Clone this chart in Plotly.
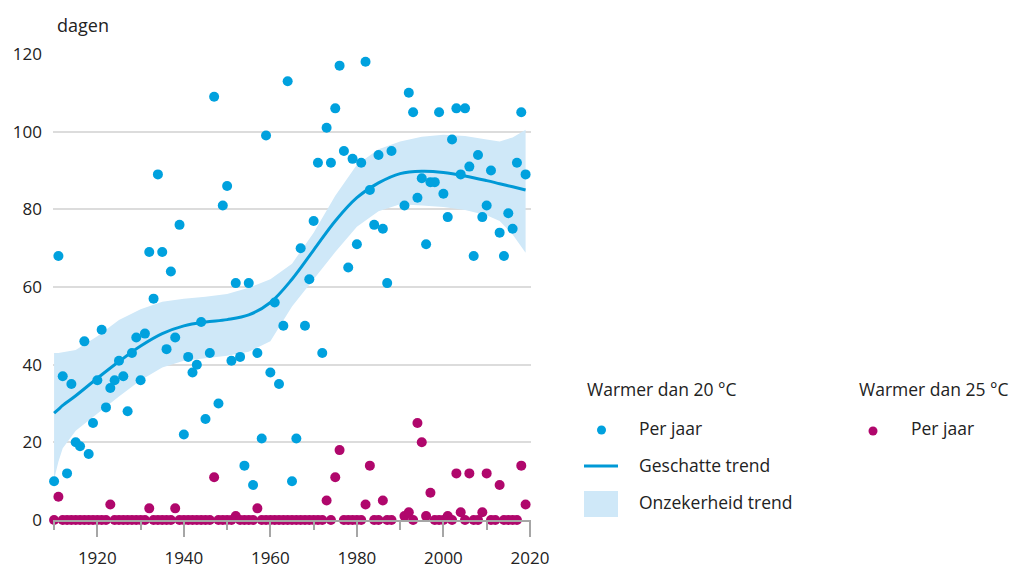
import plotly.graph_objects as go

# ---------------- data ----------------
years_20 = [1910, 1911, 1912, 1913, 1914, 1915, 1916, 1917, 1918, 1919,
            1920, 1921, 1922, 1923, 1924, 1925, 1926, 1927, 1928, 1929,
            1930, 1931, 1932, 1933, 1934, 1935, 1936, 1937, 1938, 1939,
            1940, 1941, 1942, 1943, 1944, 1945, 1946, 1947, 1948, 1949,
            1950, 1951, 1952, 1953, 1954, 1955, 1956, 1957, 1958, 1959,
            1960, 1961, 1962, 1963, 1964, 1965, 1966, 1967, 1968, 1969,
            1970, 1971, 1972, 1973, 1974, 1975, 1976, 1977, 1978, 1979,
            1980, 1981, 1982, 1983, 1984, 1985, 1986, 1987, 1988,
            1991, 1992, 1993, 1994, 1995, 1996, 1997, 1998, 1999,
            2000, 2001, 2002, 2003, 2004, 2005, 2006, 2007, 2008, 2009,
            2010, 2011, 2013, 2014, 2015, 2016, 2017, 2018, 2019]
days_20 = [10, 68, 37, 12, 35, 20, 19, 46, 17, 25,
           36, 49, 29, 34, 36, 41, 37, 28, 43, 47,
           36, 48, 69, 57, 89, 69, 44, 64, 47, 76,
           22, 42, 38, 40, 51, 26, 43, 109, 30, 81,
           86, 41, 61, 42, 14, 61, 9, 43, 21, 99,
           38, 56, 35, 50, 113, 10, 21, 70, 50, 62,
           77, 92, 43, 101, 92, 106, 117, 95, 65, 93,
           71, 92, 118, 85, 76, 94, 75, 61, 95,
           81, 110, 105, 83, 88, 71, 87, 87, 105,
           84, 78, 98, 106, 89, 106, 91, 68, 94, 78,
           81, 90, 74, 68, 79, 75, 92, 105, 89]

years_25 = [1910, 1911, 1912, 1913, 1914, 1915, 1916, 1917, 1918, 1919,
            1920, 1921, 1922, 1923, 1924, 1925, 1926, 1927, 1928, 1929,
            1930, 1931, 1932, 1933, 1934, 1935, 1936, 1937, 1938, 1939,
            1940, 1941, 1942, 1943, 1944, 1945, 1946, 1947, 1948, 1949,
            1950, 1951, 1952, 1953, 1954, 1955, 1956, 1957, 1958, 1959,
            1960, 1961, 1962, 1963, 1964, 1965, 1966, 1967, 1968, 1969,
            1970, 1971, 1972, 1973, 1974, 1975, 1976, 1977, 1978, 1979,
            1980, 1981, 1982, 1983, 1984, 1985, 1986, 1987, 1988,
            1991, 1992, 1993, 1994, 1995, 1996, 1997, 1998, 1999,
            2000, 2001, 2002, 2003, 2004, 2005, 2006, 2007, 2008, 2009,
            2010, 2011, 2012, 2013, 2014, 2015, 2016, 2017, 2018, 2019]
days_25 = [0, 6, 0, 0, 0, 0, 0, 0, 0, 0,
           0, 0, 0, 4, 0, 0, 0, 0, 0, 0,
           0, 0, 3, 0, 0, 0, 0, 0, 3, 0,
           0, 0, 0, 0, 0, 0, 0, 11, 0, 0,
           0, 0, 1, 0, 0, 0, 0, 3, 0, 0,
           0, 0, 0, 0, 0, 0, 0, 0, 0, 0,
           0, 0, 0, 5, 0, 11, 18, 0, 0, 0,
           0, 0, 4, 14, 0, 0, 5, 0, 0,
           1, 2, 0, 25, 20, 1, 7, 0, 0,
           0, 1, 0, 12, 2, 0, 12, 0, 0, 2,
           12, 0, 0, 9, 0, 0, 0, 0, 14, 4]

trend_years = [1910, 1911, 1912, 1915, 1920, 1925, 1930, 1935, 1940, 1945,
               1950, 1955, 1960, 1965, 1970, 1975, 1980, 1985, 1990, 1995,
               2000, 2005, 2010, 2013, 2016, 2019]
trend = [27.5, 28.5, 29.5, 32, 36.5, 40.8, 44.8, 48, 50, 51,
         51.6, 52.8, 56, 62, 69.5, 77, 83, 86.8, 89.2, 89.8,
         89.5, 88.6, 87.4, 86.6, 85.8, 85]
trend_upper = [43, 43, 43.2, 43.8, 47.3, 51.5, 54.3, 56.2, 57, 57.5,
               58.2, 59.8, 62, 66, 74, 83.5, 91.5, 95.5, 97.5, 98.7,
               99.2, 98.9, 98, 97.5, 98.5, 100.5]
trend_lower = [10.5, 15, 18.5, 23, 27.5, 31.8, 36, 39.3, 41, 41.7,
               42.3, 43.3, 46, 55, 62, 69, 75.5, 79.5, 81.3, 81,
               80.6, 79.8, 78.5, 77, 73.5, 68.8]

x_ticks = [1920, 1940, 1960, 1980, 2000, 2020]
y_ticks = [0, 20, 40, 60, 80, 100, 120]

BLUE = "#00A1DE"
LINE_BLUE = "#0099D6"
BAND = "#CFE8F8"
MAGENTA = "#B0076C"
TXT = "#222222"
FONT = "Open Sans"

# ---------------- figure ----------------
fig = go.Figure()

fig.add_trace(go.Scatter(
    x=trend_years + trend_years[::-1],
    y=trend_upper + trend_lower[::-1],
    fill="toself", fillcolor=BAND, line=dict(width=0),
    mode="lines", hoverinfo="skip", showlegend=False))

fig.add_trace(go.Scatter(
    x=trend_years, y=trend, mode="lines",
    line=dict(color=LINE_BLUE, width=3, shape="spline"),
    showlegend=False))

fig.add_trace(go.Scatter(
    x=years_20, y=days_20, mode="markers",
    marker=dict(color=BLUE, size=10), cliponaxis=False, showlegend=False))

fig.add_trace(go.Scatter(
    x=years_25, y=days_25, mode="markers",
    marker=dict(color=MAGENTA, size=10), cliponaxis=False, showlegend=False))

L, R, T, B = 53, 486, 54, 49
W, H = 1017, 569
PW = W - L - R
PH = H - T - B


def px(xp):
    return (xp - L) / PW


def py(yp):
    return (H - B - yp) / PH


shapes = []
annotations = []

# legend glyphs
shapes.append(dict(type="circle", xref="paper", yref="paper",
                   xsizemode="pixel", ysizemode="pixel",
                   xanchor=px(601.5), yanchor=py(430),
                   x0=-4.5, x1=4.5, y0=-4.5, y1=4.5,
                   fillcolor=BLUE, line=dict(width=0)))
shapes.append(dict(type="circle", xref="paper", yref="paper",
                   xsizemode="pixel", ysizemode="pixel",
                   xanchor=px(873), yanchor=py(431),
                   x0=-4.5, x1=4.5, y0=-4.5, y1=4.5,
                   fillcolor=MAGENTA, line=dict(width=0)))
shapes.append(dict(type="line", xref="paper", yref="paper",
                   x0=px(584), x1=px(618), y0=py(466), y1=py(466),
                   line=dict(color=LINE_BLUE, width=3)))
shapes.append(dict(type="rect", xref="paper", yref="paper",
                   x0=px(584), x1=px(618), y0=py(517), y1=py(491),
                   fillcolor=BAND, line=dict(width=0)))

legend_texts = [
    ("Warmer dan 20 °C", 585, 389),
    ("Per jaar", 637, 428),
    ("Geschatte trend", 637, 465),
    ("Onzekerheid trend", 637, 502),
    ("Warmer dan 25 °C", 857, 389),
    ("Per jaar", 909, 428),
]
for txt, xx, yy in legend_texts:
    annotations.append(dict(text=txt, xref="paper", yref="paper",
                            x=px(xx), y=py(yy), xanchor="left", yanchor="middle",
                            showarrow=False, font=dict(family=FONT, size=17.5, color=TXT)))

annotations.append(dict(text="dagen", xref="paper", yref="paper",
                        x=px(55), y=py(25), xanchor="left", yanchor="middle",
                        showarrow=False, font=dict(family=FONT, size=18, color=TXT)))

fig.update_layout(
    width=W, height=H,
    margin=dict(l=L, r=R, t=T, b=B, pad=0, autoexpand=False),
    plot_bgcolor="white", paper_bgcolor="white",
    font=dict(family=FONT, size=17, color=TXT),
    shapes=shapes, annotations=annotations,
    showlegend=False,
)

fig.update_xaxes(
    range=[1909.75, 2020.25], tickvals=x_ticks,
    ticktext=[str(v) for v in x_ticks],
    showgrid=False, zeroline=False, automargin=False,
    showline=True, linecolor="#A6A6A6", linewidth=1.5,
    ticks="outside", ticklen=15, tickwidth=1.5, tickcolor="#A6A6A6",
    ticklabelstandoff=7,
    minor=dict(tick0=1910, dtick=10, ticks="outside", ticklen=8,
               tickwidth=1.5, tickcolor="#A6A6A6", showgrid=False),
    tickfont=dict(family=FONT, size=17, color=TXT),
)

fig.update_yaxes(
    range=[0, 120], tickvals=y_ticks,
    ticktext=[str(v) for v in y_ticks],
    showgrid=True, gridcolor="#DCDCDC", gridwidth=2,
    zeroline=False, showline=False, ticks="", automargin=False,
    ticklabelstandoff=10,
    tickfont=dict(family=FONT, size=17, color=TXT),
)

fig.write_html("out.html", config={"displayModeBar": False},
               post_script="document.body.style.margin='0';document.body.style.overflow='hidden';")
